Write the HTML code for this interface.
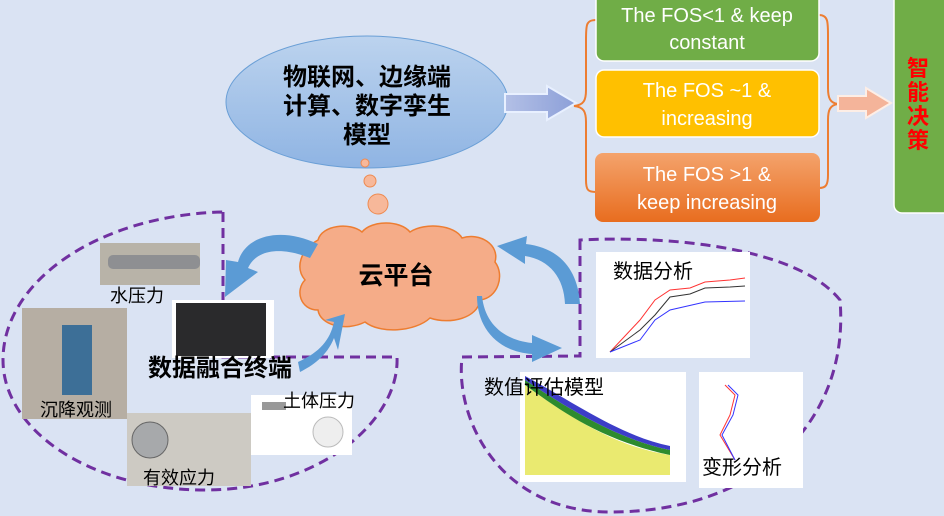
<!DOCTYPE html>
<html><head><meta charset="utf-8"><style>
body{margin:0;width:944px;height:516px;overflow:hidden;background:#dae3f3;font-family:"Liberation Sans","Noto Sans CJK SC",sans-serif}
svg{position:absolute;left:0;top:0}
</style></head><body>
<svg width="944" height="516" viewBox="0 0 944 516" xmlns="http://www.w3.org/2000/svg">
<defs>
<linearGradient id="eg" x1="0" y1="0" x2="0" y2="1"><stop offset="0" stop-color="#bcd3ee"/><stop offset="1" stop-color="#8fb4e3"/></linearGradient>
<linearGradient id="og" x1="0" y1="0" x2="0" y2="1"><stop offset="0" stop-color="#f4a36c"/><stop offset="1" stop-color="#e86d1f"/></linearGradient>
<linearGradient id="ba" x1="0" y1="0" x2="1" y2="0"><stop offset="0" stop-color="#b3c0e6"/><stop offset="1" stop-color="#8c9fd8"/></linearGradient>
</defs>
<path d="M223,212 L223,357 L397,357 C400,420 320,490 205,490 C90,490 3,430 3,360 C3,280 100,215 223,212 Z" fill="none" stroke="#7030a0" stroke-width="3" stroke-dasharray="10,6"/>
<path d="M580,240 L580,356 L462,357 C455,420 500,512 610,512 C760,512 850,420 840,300 C800,250 680,235 580,240 Z" fill="none" stroke="#7030a0" stroke-width="3" stroke-dasharray="10,6"/>
<ellipse cx="367" cy="102" rx="141" ry="66" fill="url(#eg)" stroke="#6a9fd6" stroke-width="1"/>
<circle cx="365" cy="163" r="4" fill="#f7b89a" stroke="#ee8a50"/>
<circle cx="370" cy="181" r="6" fill="#f7b89a" stroke="#ee8a50"/>
<circle cx="378" cy="204" r="10" fill="#f7b89a" stroke="#ee8a50"/>
<g font-size="24" font-weight="bold" text-anchor="middle" fill="#000">
<text x="367" y="85">物联网、边缘端</text>
<text x="367" y="114">计算、数字孪生</text>
<text x="367" y="143">模型</text></g>
<path d="M505,94 L547,94 L547,86 L576,103 L547,120 L547,112 L505,112 Z" fill="url(#ba)" stroke="#e8f0ff" stroke-width="2"/>
<path d="M596,20 C586,20 586,25 586,40 L586,90 C586,100 584,105 574,106 C584,107 586,112 586,122 L586,180 C586,190 588,192 596,192" fill="none" stroke="#ed7d31" stroke-width="2"/>
<path d="M819,15 C828,15 828,22 828,35 L828,88 C828,98 830,103 838,104 C830,105 828,110 828,120 L828,175 C828,185 826,188 819,188" fill="none" stroke="#ed7d31" stroke-width="2"/>
<rect x="596" y="-10" width="223" height="71" rx="8" fill="#70ad47" stroke="#fff" stroke-width="1.5"/>
<rect x="596" y="70" width="223" height="67" rx="8" fill="#ffc000" stroke="#fff" stroke-width="1.5"/>
<rect x="595" y="153" width="225" height="69" rx="8" fill="url(#og)"/>
<g fill="#fff" font-size="20" text-anchor="middle">
<text x="707" y="22">The FOS&lt;1 &amp; keep</text><text x="707" y="49">constant</text>
<text x="707" y="97">The FOS ~1 &amp;</text><text x="707" y="125">increasing</text>
<text x="707" y="181">The FOS &gt;1 &amp;</text><text x="707" y="209">keep increasing</text>
</g>
<path d="M838,96 L866,96 L866,88 L891,103 L866,118 L866,111 L838,111 Z" fill="#f4b49a" stroke="#fdeee6" stroke-width="2"/>
<rect x="894" y="-10" width="60" height="223" rx="8" fill="#70ad47" stroke="#fff" stroke-width="1.5"/>
<g fill="#ff0000" font-size="22" font-weight="bold" text-anchor="middle">
<text x="918" y="76">智</text><text x="918" y="100">能</text><text x="918" y="124">决</text><text x="918" y="148">策</text></g>
<path d="M318,240 C322,225 350,222 362,232 C372,220 400,220 410,232 C425,222 455,225 462,238 C480,232 500,245 495,262 C505,275 498,298 480,300 C478,318 450,325 430,318 C415,332 380,334 365,322 C345,332 320,325 318,310 C300,310 295,290 305,280 C295,268 300,250 318,240 Z" fill="#f5ac88" stroke="#ed7d31" stroke-width="1.5"/>
<text x="396" y="284" font-size="25" font-weight="bold" text-anchor="middle" fill="#000">云平台</text>
<path d="M318,244 C280,226 245,236 238,262 L226,260 L225,297 L258,272 L248,268 C256,250 280,246 310,258 Z" fill="#5b9bd5"/>
<path d="M298,362 C320,352 330,340 334,322 L325,320 L345,314 L338,350 L334,338 C327,356 312,366 300,372 Z" fill="#5b9bd5"/>
<path d="M580,304 C578,270 560,248 526,244 L527,236 L497,246 L525,264 L525,256 C550,260 564,278 565,304 Z" fill="#5b9bd5"/>
<path d="M482,296 C485,325 505,340 532,343 L532,335 L562,348 L532,362 L532,354 C500,352 477,330 477,296 Z" fill="#5b9bd5"/>
<rect x="100" y="243" width="100" height="42" fill="#b8b3a8"/>
<rect x="108" y="255" width="92" height="14" rx="5" fill="#8e8f92"/>
<rect x="22" y="308" width="105" height="111" fill="#b6aea3"/>
<rect x="62" y="325" width="30" height="70" fill="#3d6f97"/>
<rect x="172" y="300" width="102" height="58" fill="#fff"/>
<rect x="176" y="303" width="90" height="53" fill="#2a2a2c"/>
<rect x="127" y="413" width="124" height="73" fill="#cdcac3"/>
<circle cx="150" cy="440" r="18" fill="#a7a9ab" stroke="#666"/>
<rect x="251" y="395" width="101" height="60" fill="#fff"/>
<rect x="262" y="402" width="24" height="8" fill="#999"/>
<circle cx="328" cy="432" r="15" fill="#eee" stroke="#bbb"/>
<g font-size="18" fill="#000">
<text x="110" y="302">水压力</text>
<text x="40" y="416">沉降观测</text>
<text x="143" y="484">有效应力</text>
<text x="283" y="407">土体压力</text>
</g>
<text x="148" y="376" font-size="24" font-weight="bold" fill="#000">数据融合终端</text>
<rect x="596" y="252" width="154" height="106" fill="#fff"/>
<polyline points="610,352 640,320 655,300 670,290 690,288 705,282 730,280 745,278" fill="none" stroke="#f33" stroke-width="1"/>
<polyline points="610,352 640,330 655,315 670,297 690,294 705,288 730,287 745,286" fill="none" stroke="#333" stroke-width="1"/>
<polyline points="610,352 640,340 655,320 670,310 705,302 745,301" fill="none" stroke="#33f" stroke-width="1"/>
<rect x="520" y="372" width="166" height="110" fill="#fff"/>
<path d="M525,385 L525,475 L670,475 L670,455 C640,450 600,440 525,385 Z" fill="#eaea70"/>
<path d="M525,385 C560,410 600,440 670,455 L670,450 C620,440 570,410 525,380 Z" fill="#2e8b2e"/>
<path d="M525,380 C570,410 620,440 670,450 L670,446 C620,436 570,400 525,376 Z" fill="#3d3dc8"/>
<rect x="699" y="372" width="104" height="116" fill="#fff"/>
<polyline points="725,385 735,395 730,415 720,435 735,460" fill="none" stroke="#f33"/>
<polyline points="728,385 738,395 733,415 722,435 735,460" fill="none" stroke="#33f"/>
<g font-size="20" fill="#000">
<text x="613" y="278">数据分析</text>
<text x="484" y="394">数值评估模型</text>
<text x="702" y="474">变形分析</text>
</g>
</svg>
</body></html>
